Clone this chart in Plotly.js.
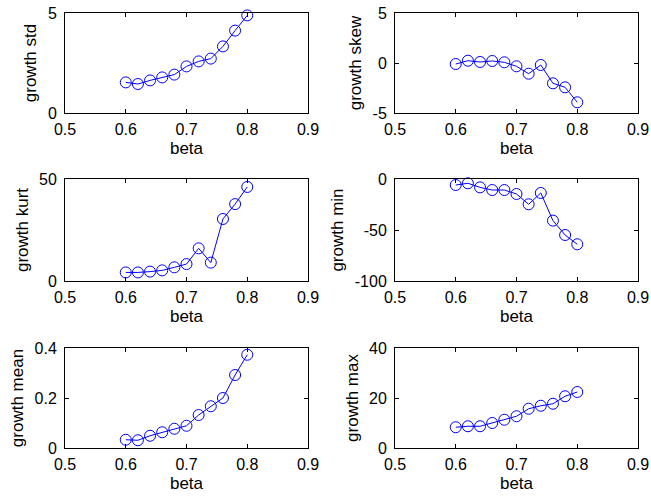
<!DOCTYPE html>
<html>
<head>
<meta charset="utf-8">
<script src="https://cdn.plot.ly/plotly-3.0.1.min.js"></script>
<style>
  html, body { margin: 0; padding: 0; background: #fff; }
  #chart { width: 651px; height: 497px; }
</style>
</head>
<body>
<div id="chart"></div>
<script>
// Growth statistics as a function of beta
const beta = [0.60, 0.62, 0.64, 0.66, 0.68, 0.70, 0.72, 0.74, 0.76, 0.78, 0.80];

const growthStd  = [1.53, 1.45, 1.63, 1.78, 1.92, 2.33, 2.58, 2.72, 3.33, 4.12, 4.88];
const growthSkew = [-0.10, 0.23, 0.10, 0.20, 0.07, -0.33, -1.07, -0.20, -2.03, -2.43, -3.93];
const growthKurt = [4.2, 4.2, 4.6, 5.2, 6.7, 8.3, 16.0, 9.0, 30.4, 37.7, 46.1];
const growthMin  = [-5.9, -4.2, -8.2, -10.8, -10.8, -14.7, -24.8, -13.7, -40.8, -54.9, -64.0];
const growthMean = [0.033, 0.031, 0.049, 0.063, 0.077, 0.089, 0.132, 0.167, 0.200, 0.292, 0.373];
const growthMax  = [8.3, 8.7, 8.7, 10.0, 11.3, 12.7, 15.7, 16.9, 17.7, 20.7, 22.4];

const xTicks = [0.5, 0.6, 0.7, 0.8, 0.9];
const xTickText = ['0.5', '0.6', '0.7', '0.8', '0.9'];

// panel definitions: label, values, y range, y ticks
const panels = [
  { label: 'growth std',  y: growthStd,  range: [0, 5],     ticks: [0, 5],          text: ['0', '5'] },
  { label: 'growth skew', y: growthSkew, range: [-5, 5],    ticks: [-5, 0, 5],      text: ['-5', '0', '5'] },
  { label: 'growth kurt', y: growthKurt, range: [0, 50],    ticks: [0, 50],         text: ['0', '50'] },
  { label: 'growth min',  y: growthMin,  range: [-100, 0],  ticks: [-100, -50, 0],  text: ['-100', '-50', '0'] },
  { label: 'growth mean', y: growthMean, range: [0, 0.4],   ticks: [0, 0.2, 0.4],   text: ['0', '0.2', '0.4'] },
  { label: 'growth max',  y: growthMax,  range: [0, 40],    ticks: [0, 20, 40],     text: ['0', '20', '40'] }
];

const W = 651, H = 497;
const colPx = [[65, 308], [395, 638]];
const rowPx = [[13, 113], [179, 281], [348, 448]];

const font = { family: 'Arial, "Liberation Sans", sans-serif', size: 16, color: '#000' };
const titleFont = { family: 'Arial, "Liberation Sans", sans-serif', size: 17, color: '#000' };
const blue = 'rgb(0,0,255)';

const traces = [];
const layout = {
  width: W, height: H,
  margin: { l: 0, r: 0, t: 0, b: 0 },
  paper_bgcolor: '#fff',
  plot_bgcolor: '#fff',
  showlegend: false,
  font: font
};

panels.forEach((p, i) => {
  const n = i + 1;
  const col = i % 2, row = Math.floor(i / 2);
  const xs = n === 1 ? 'x' : 'x' + n;
  const ys = n === 1 ? 'y' : 'y' + n;
  traces.push({
    type: 'scatter', mode: 'lines+markers',
    x: beta, y: p.y, xaxis: xs, yaxis: ys,
    line: { color: blue, width: 1 },
    marker: { symbol: 'circle-open', size: 11, color: blue, line: { color: blue, width: 1 } },
    cliponaxis: false,
    hoverinfo: 'skip'
  });
  const common = {
    showline: true, linecolor: '#000', linewidth: 1, mirror: 'ticks',
    ticks: 'inside', ticklen: 4, tickwidth: 1, tickcolor: '#000',
    showgrid: false, zeroline: false, fixedrange: true,
    tickfont: font
  };
  layout['xaxis' + (n === 1 ? '' : n)] = Object.assign({}, common, {
    domain: [colPx[col][0] / W, colPx[col][1] / W],
    anchor: ys,
    range: [0.5, 0.9],
    tickmode: 'array', tickvals: xTicks, ticktext: xTickText,
    ticklabelstandoff: 2,
    title: { text: 'beta', font: titleFont, standoff: 4 }
  });
  layout['yaxis' + (n === 1 ? '' : n)] = Object.assign({}, common, {
    domain: [1 - rowPx[row][1] / H, 1 - rowPx[row][0] / H],
    anchor: xs,
    range: p.range,
    tickmode: 'array', tickvals: p.ticks, ticktext: p.text,
    ticklabelstandoff: 4,
    title: { text: p.label, font: titleFont, standoff: 6 }
  });
});

Plotly.newPlot('chart', traces, layout, { displayModeBar: false, staticPlot: true });
</script>
</body>
</html>
